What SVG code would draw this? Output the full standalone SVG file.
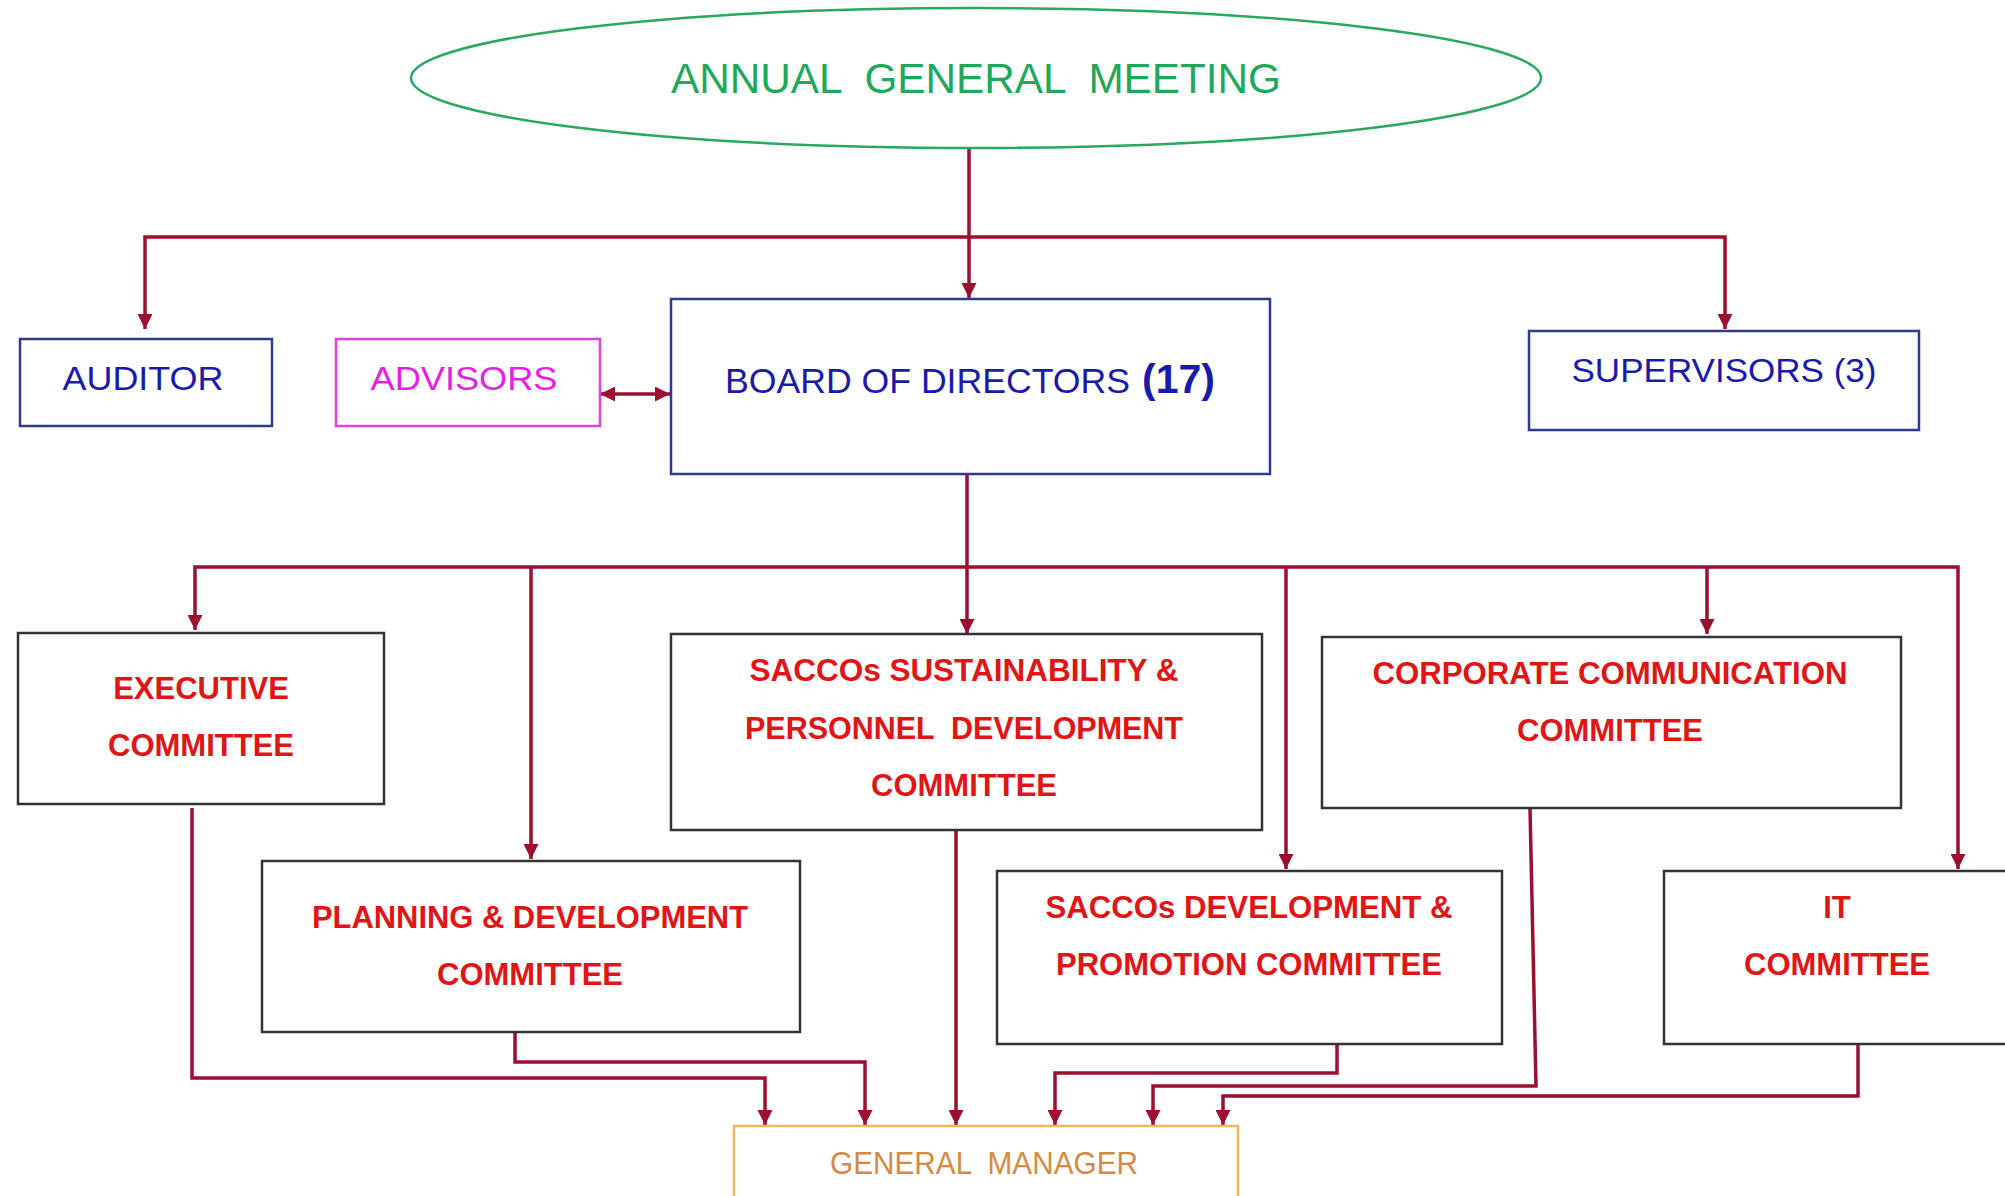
<svg xmlns="http://www.w3.org/2000/svg" width="2005" height="1196" viewBox="0 0 2005 1196">
<style>
.box{fill:#ffffff;stroke:#333333;stroke-width:2.5}
.blue{fill:#ffffff;stroke:#2e3a8e;stroke-width:2.5}
.red{font-family:"Liberation Sans",Arial,sans-serif;font-weight:bold;font-size:31px;fill:#e01515;text-anchor:middle}
.bt{font-family:"Liberation Sans",Arial,sans-serif;font-size:33px;fill:#1a1aa8;text-anchor:middle}
.con{fill:none;stroke:#9b0f30;stroke-width:3.5}
</style>
<defs>
<marker id="ah" viewBox="0 0 14 14" refX="14" refY="7" markerWidth="15" markerHeight="15" orient="auto-start-reverse" markerUnits="userSpaceOnUse">
<path d="M0,0 L14,7 L0,14 z" fill="#9b0f30"/>
</marker>
</defs>
<rect width="2005" height="1196" fill="#ffffff"/>

<g id="connectors">
<path class="con" d="M969,149 V298" marker-end="url(#ah)"/>
<path class="con" d="M145,329 V237 H1725 V329" marker-start="url(#ah)" marker-end="url(#ah)"/>
<path class="con" d="M600,394 H670" stroke-width="4.5" marker-start="url(#ah)" marker-end="url(#ah)"/>
<path class="con" d="M967,474 V634" marker-end="url(#ah)"/>
<path class="con" d="M195,630 V567 H1958 V869" marker-start="url(#ah)" marker-end="url(#ah)"/>
<path class="con" d="M531,567 V859" marker-end="url(#ah)"/>
<path class="con" d="M1286,567 V869" marker-end="url(#ah)"/>
<path class="con" d="M1707,567 V634" marker-end="url(#ah)"/>
<path class="con" d="M192,808 V1078 H765 V1125" marker-end="url(#ah)"/>
<path class="con" d="M515,1032 V1062 H865 V1125" marker-end="url(#ah)"/>
<path class="con" d="M956,830 V1125" marker-end="url(#ah)"/>
<path class="con" d="M1337,1043 V1073 H1055 V1125" marker-end="url(#ah)"/>
<path class="con" d="M1530,808 L1536,1086 H1153 V1125" marker-end="url(#ah)"/>
<path class="con" d="M1858,1043 V1096 H1223 V1125" marker-end="url(#ah)"/>
</g>

<g id="agm">
<ellipse cx="976" cy="78" rx="565" ry="70" fill="#ffffff" stroke="#2aa860" stroke-width="2.5"/>
<text x="976" y="93" xml:space="preserve" font-family="Liberation Sans, Arial, sans-serif" font-size="43" fill="#1fa85a" text-anchor="middle" textLength="610" lengthAdjust="spacingAndGlyphs">ANNUAL  GENERAL  MEETING</text>
</g>

<g id="auditor">
<rect class="blue" x="20" y="339" width="252" height="87"/>
<text class="bt" x="143" y="390" textLength="161" lengthAdjust="spacingAndGlyphs">AUDITOR</text>
</g>

<g id="advisors">
<rect x="336" y="339" width="264" height="87" fill="#ffffff" stroke="#e040e0" stroke-width="2.5"/>
<text x="464" y="390" font-family="Liberation Sans, Arial, sans-serif" font-size="33" fill="#e61ee6" text-anchor="middle" textLength="187" lengthAdjust="spacingAndGlyphs">ADVISORS</text>
</g>

<g id="board">
<rect class="blue" x="671" y="299" width="599" height="175"/>
<text x="725" y="393" font-family="Liberation Sans, Arial, sans-serif" font-size="35" fill="#1a1aa8"><tspan textLength="405" lengthAdjust="spacingAndGlyphs">BOARD OF DIRECTORS</tspan><tspan dx="12" font-weight="bold" font-size="41">(17)</tspan></text>
</g>

<g id="supervisors">
<rect class="blue" x="1529" y="331" width="390" height="99"/>
<text class="bt" x="1724" y="382" font-size="31" textLength="305" lengthAdjust="spacingAndGlyphs">SUPERVISORS (3)</text>
</g>

<g id="executive">
<rect class="box" x="18" y="633" width="366" height="171"/>
<text class="red" x="201" y="699">EXECUTIVE</text>
<text class="red" x="201" y="756">COMMITTEE</text>
</g>

<g id="planning">
<rect class="box" x="262" y="861" width="538" height="171"/>
<text class="red" x="530" y="928" textLength="436" lengthAdjust="spacingAndGlyphs">PLANNING &amp; DEVELOPMENT</text>
<text class="red" x="530" y="985">COMMITTEE</text>
</g>

<g id="sustainability">
<rect class="box" x="671" y="634" width="591" height="196"/>
<text class="red" x="964" y="681" textLength="429" lengthAdjust="spacingAndGlyphs">SACCOs SUSTAINABILITY &amp;</text>
<text class="red" x="964" y="739" xml:space="preserve" textLength="438" lengthAdjust="spacingAndGlyphs">PERSONNEL  DEVELOPMENT</text>
<text class="red" x="964" y="796">COMMITTEE</text>
</g>

<g id="corporate">
<rect class="box" x="1322" y="637" width="579" height="171"/>
<text class="red" x="1610" y="684" textLength="475" lengthAdjust="spacingAndGlyphs">CORPORATE COMMUNICATION</text>
<text class="red" x="1610" y="741">COMMITTEE</text>
</g>

<g id="development">
<rect class="box" x="997" y="871" width="505" height="173"/>
<text class="red" x="1249" y="918" textLength="407" lengthAdjust="spacingAndGlyphs">SACCOs DEVELOPMENT &amp;</text>
<text class="red" x="1249" y="975" textLength="386" lengthAdjust="spacingAndGlyphs">PROMOTION COMMITTEE</text>
</g>

<g id="it">
<rect class="box" x="1664" y="871" width="360" height="173"/>
<text class="red" x="1837" y="918">IT</text>
<text class="red" x="1837" y="975">COMMITTEE</text>
</g>

<g id="general-manager">
<rect x="734" y="1126" width="504" height="90" fill="#ffffff" stroke="#ebb866" stroke-width="2.5"/>
<text x="984" y="1174" xml:space="preserve" font-family="Liberation Sans, Arial, sans-serif" font-size="32" fill="#d48a40" text-anchor="middle" textLength="308" lengthAdjust="spacingAndGlyphs">GENERAL  MANAGER</text>
</g>
</svg>
